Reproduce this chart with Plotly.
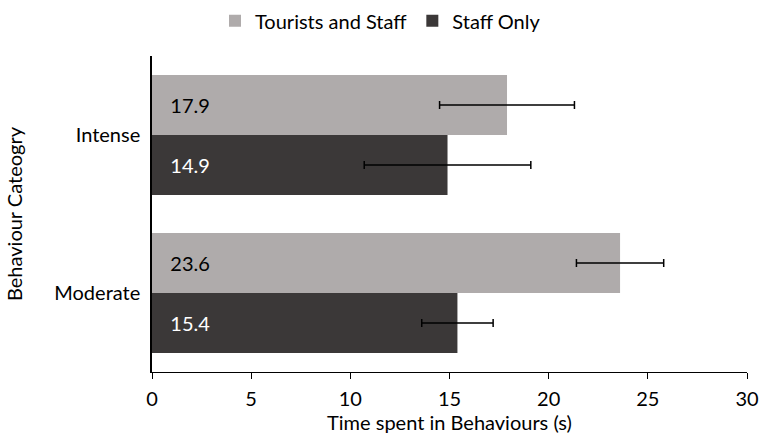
import plotly.graph_objects as go

# Behaviour categories (top to bottom) and mean time in seconds per group
categories = ["Intense", "Moderate"]
tourists_staff = [17.9, 23.6]
tourists_staff_err = [3.4, 2.2]
staff_only = [14.9, 15.4]
staff_only_err = [4.2, 1.8]
x_ticks = [0, 5, 10, 15, 20, 25, 30]

FONT = "Lato, 'Open Sans', sans-serif"
LIGHT = "#AFABAB"
DARK = "#3B3838"
PAD = "\u00a0\u00a0\u00a0"
SIZE = 20

fig = go.Figure()
fig.add_trace(go.Bar(
    name="Tourists and Staff",
    y=categories, x=tourists_staff, orientation="h",
    marker=dict(color=LIGHT, line=dict(width=0)),
    error_x=dict(type="data", array=tourists_staff_err, color="black",
                 thickness=1.5, width=4),
    texttemplate=PAD + "%{x:.1f}", textposition="inside",
    insidetextanchor="start",
    textfont=dict(color="black", size=SIZE, family=FONT),
))
fig.add_trace(go.Bar(
    name="Staff Only",
    y=categories, x=staff_only, orientation="h",
    marker=dict(color=DARK, line=dict(width=0)),
    error_x=dict(type="data", array=staff_only_err, color="black",
                 thickness=1.5, width=4),
    texttemplate=PAD + "%{x:.1f}", textposition="inside",
    insidetextanchor="start",
    textfont=dict(color="white", size=SIZE, family=FONT),
))

fig.update_layout(
    width=761, height=436,
    margin=dict(l=152, r=14, t=56, b=64),
    plot_bgcolor="white", paper_bgcolor="white",
    barmode="group", bargap=0.24, bargroupgap=0,
    font=dict(family=FONT, size=SIZE, color="black"),
    showlegend=True,
    legend=dict(orientation="h", xref="container", x=0.5, xanchor="center",
                yref="container", y=0.997, yanchor="top",
                font=dict(size=SIZE), itemwidth=30, traceorder="normal"),
    uniformtext=dict(mode=False),
)
fig.update_xaxes(
    range=[0, 30], tickvals=x_ticks, showgrid=False, zeroline=False,
    showline=True, linecolor="black", linewidth=1,
    ticks="outside", ticklen=6, tickcolor="black",
    tickfont=dict(size=SIZE), ticklabelstandoff=3, automargin=False,
    title=dict(text="Time spent in Behaviours (s)", font=dict(size=SIZE), standoff=6),
)
fig.update_yaxes(
    autorange="reversed", showgrid=False, zeroline=False,
    showline=True, linecolor="black", linewidth=1.5,
    ticks="", tickfont=dict(size=SIZE), ticklabelstandoff=6, automargin=False,
    title=dict(text="Behaviour Cateogry", font=dict(size=SIZE), standoff=26),
)

fig.write_html("out.html")
